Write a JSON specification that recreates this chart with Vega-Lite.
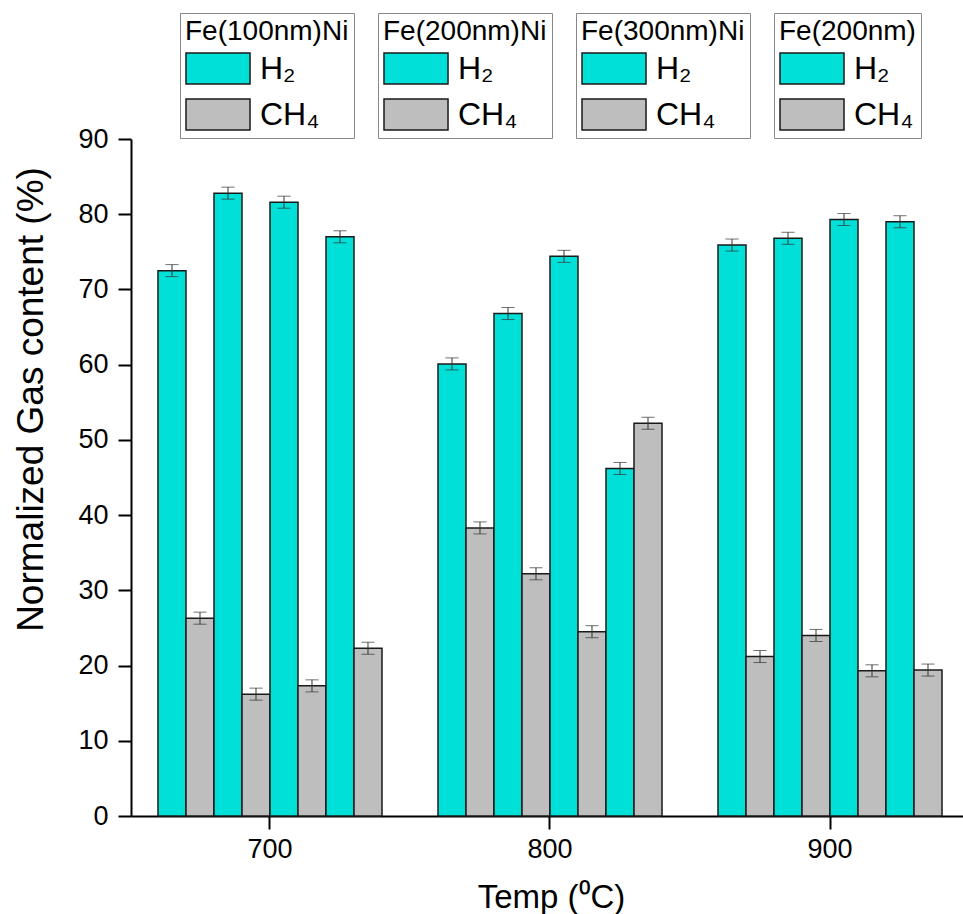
{
  "$schema": "https://vega.github.io/schema/vega-lite/v6.json",
  "width": 832,
  "height": 677,
  "autosize": {"type": "none"},
  "padding": {"left": 131, "top": 139, "right": 0, "bottom": 98},
  "background": "white",
  "config": {
    "view": {"stroke": null},
    "font": "Liberation Sans",
    "axis": {
      "domainColor": "black", "domainWidth": 2, "tickColor": "black", "tickWidth": 2,
      "labelColor": "black", "titleColor": "black", "titleFontWeight": "normal",
      "labelFont": "Liberation Sans", "titleFont": "Liberation Sans", "grid": false
    },
    "legend": {
      "orient": "none", "direction": "vertical",
      "titleFont": "Liberation Sans", "titleFontSize": 28, "titleFontWeight": "normal", "titleColor": "black", "titleLimit": 400,
      "labelFont": "Liberation Sans", "labelFontSize": 32, "labelColor": "black",
      "symbolType": "M-1,-1H3.13V1H-1Z", "symbolSize": 961,
      "symbolStrokeColor": "#1a1a1a", "symbolStrokeWidth": 1.5, "symbolOpacity": 1,
      "labelOffset": 42, "rowPadding": 9, "titlePadding": 6, "padding": 5,
      "strokeColor": "#888888"
    }
  },
  "data": {"values": [
    {"temp": "700", "sample": "Fe(100nm)Ni", "gas": "H₂", "bar": "A-H2", "value": 72.5, "lo": 71.7, "hi": 73.3},
    {"temp": "700", "sample": "Fe(100nm)Ni", "gas": "CH₄", "bar": "A-CH4", "value": 26.3, "lo": 25.5, "hi": 27.1},
    {"temp": "700", "sample": "Fe(200nm)Ni", "gas": "H₂", "bar": "B-H2", "value": 82.8, "lo": 82.0, "hi": 83.6},
    {"temp": "700", "sample": "Fe(200nm)Ni", "gas": "CH₄", "bar": "B-CH4", "value": 16.2, "lo": 15.4, "hi": 17.0},
    {"temp": "700", "sample": "Fe(300nm)Ni", "gas": "H₂", "bar": "C-H2", "value": 81.6, "lo": 80.8, "hi": 82.4},
    {"temp": "700", "sample": "Fe(300nm)Ni", "gas": "CH₄", "bar": "C-CH4", "value": 17.3, "lo": 16.5, "hi": 18.1},
    {"temp": "700", "sample": "Fe(200nm)", "gas": "H₂", "bar": "D-H2", "value": 77.0, "lo": 76.2, "hi": 77.8},
    {"temp": "700", "sample": "Fe(200nm)", "gas": "CH₄", "bar": "D-CH4", "value": 22.3, "lo": 21.5, "hi": 23.1},
    {"temp": "800", "sample": "Fe(100nm)Ni", "gas": "H₂", "bar": "A-H2", "value": 60.1, "lo": 59.3, "hi": 60.9},
    {"temp": "800", "sample": "Fe(100nm)Ni", "gas": "CH₄", "bar": "A-CH4", "value": 38.3, "lo": 37.5, "hi": 39.1},
    {"temp": "800", "sample": "Fe(200nm)Ni", "gas": "H₂", "bar": "B-H2", "value": 66.8, "lo": 66.0, "hi": 67.6},
    {"temp": "800", "sample": "Fe(200nm)Ni", "gas": "CH₄", "bar": "B-CH4", "value": 32.2, "lo": 31.4, "hi": 33.0},
    {"temp": "800", "sample": "Fe(300nm)Ni", "gas": "H₂", "bar": "C-H2", "value": 74.4, "lo": 73.6, "hi": 75.2},
    {"temp": "800", "sample": "Fe(300nm)Ni", "gas": "CH₄", "bar": "C-CH4", "value": 24.5, "lo": 23.7, "hi": 25.3},
    {"temp": "800", "sample": "Fe(200nm)", "gas": "H₂", "bar": "D-H2", "value": 46.2, "lo": 45.4, "hi": 47.0},
    {"temp": "800", "sample": "Fe(200nm)", "gas": "CH₄", "bar": "D-CH4", "value": 52.2, "lo": 51.4, "hi": 53.0},
    {"temp": "900", "sample": "Fe(100nm)Ni", "gas": "H₂", "bar": "A-H2", "value": 75.9, "lo": 75.1, "hi": 76.7},
    {"temp": "900", "sample": "Fe(100nm)Ni", "gas": "CH₄", "bar": "A-CH4", "value": 21.2, "lo": 20.4, "hi": 22.0},
    {"temp": "900", "sample": "Fe(200nm)Ni", "gas": "H₂", "bar": "B-H2", "value": 76.8, "lo": 76.0, "hi": 77.6},
    {"temp": "900", "sample": "Fe(200nm)Ni", "gas": "CH₄", "bar": "B-CH4", "value": 24.0, "lo": 23.2, "hi": 24.8},
    {"temp": "900", "sample": "Fe(300nm)Ni", "gas": "H₂", "bar": "C-H2", "value": 79.3, "lo": 78.5, "hi": 80.1},
    {"temp": "900", "sample": "Fe(300nm)Ni", "gas": "CH₄", "bar": "C-CH4", "value": 19.3, "lo": 18.5, "hi": 20.1},
    {"temp": "900", "sample": "Fe(200nm)", "gas": "H₂", "bar": "D-H2", "value": 79.0, "lo": 78.2, "hi": 79.8},
    {"temp": "900", "sample": "Fe(200nm)", "gas": "CH₄", "bar": "D-CH4", "value": 19.4, "lo": 18.6, "hi": 20.2}
  ]},
  "encoding": {
    "x": {
      "field": "temp", "type": "nominal",
      "scale": {"paddingInner": 0.2, "paddingOuter": 0.0857, "align": 0.5625},
      "axis": {
        "title": "Temp (⁰C)", "titleFontSize": 33, "titleX": 420, "titleY": 91, "titleAlign": "center", "titleBaseline": "alphabetic",
        "labelAngle": 0, "labelFontSize": 27, "tickSize": 13, "labelPadding": 7
      }
    },
    "xOffset": {
      "field": "bar", "type": "nominal",
      "scale": {"domain": ["A-H2", "A-CH4", "B-H2", "B-CH4", "C-H2", "C-CH4", "D-H2", "D-CH4"], "paddingInner": 0, "paddingOuter": 0}
    }
  },
  "layer": [
    {
      "transform": [{"filter": "datum.sample === 'Fe(100nm)Ni'"}],
      "mark": {"type": "bar", "stroke": "#1a1a1a", "strokeWidth": 1.5},
      "encoding": {
        "y": {
          "field": "value", "type": "quantitative",
          "scale": {"domain": [0, 90], "nice": false},
          "axis": {
            "title": "Normalized Gas content (%)", "titleFontSize": 37, "titleX": -100, "titleY": 260, "titleAlign": "center", "titleBaseline": "middle",
            "values": [0, 5, 10, 15, 20, 25, 30, 35, 40, 45, 50, 55, 60, 65, 70, 75, 80, 85, 90],
            "labelExpr": "datum.value % 10 === 0 ? datum.label : ''",
            "tickSize": 13,
            "encode": {"ticks": {"update": {"x2": {"signal": "datum.value % 10 === 0 ? -13 : -7"}}}},
            "labelFontSize": 27, "labelPadding": 10
          }
        },
        "color": {
          "field": "gas", "type": "nominal",
          "scale": {"domain": ["H₂", "CH₄"], "range": ["#00E0D9", "#BEBEBE"]},
          "legend": {"title": "Fe(100nm)Ni", "legendX": 49, "legendY": -126}
        }
      }
    },
    {
      "transform": [{"filter": "datum.sample === 'Fe(200nm)Ni'"}],
      "mark": {"type": "bar", "stroke": "#1a1a1a", "strokeWidth": 1.5},
      "encoding": {
        "y": {"field": "value", "type": "quantitative", "axis": {"title": "Normalized Gas content (%)"}},
        "color": {
          "field": "gas", "type": "nominal",
          "scale": {"domain": ["H₂", "CH₄"], "range": ["#00E0D9", "#BEBEBE"]},
          "legend": {"title": "Fe(200nm)Ni", "legendX": 247, "legendY": -126}
        }
      }
    },
    {
      "transform": [{"filter": "datum.sample === 'Fe(300nm)Ni'"}],
      "mark": {"type": "bar", "stroke": "#1a1a1a", "strokeWidth": 1.5},
      "encoding": {
        "y": {"field": "value", "type": "quantitative", "axis": {"title": "Normalized Gas content (%)"}},
        "color": {
          "field": "gas", "type": "nominal",
          "scale": {"domain": ["H₂", "CH₄"], "range": ["#00E0D9", "#BEBEBE"]},
          "legend": {"title": "Fe(300nm)Ni", "legendX": 445, "legendY": -126}
        }
      }
    },
    {
      "transform": [{"filter": "datum.sample === 'Fe(200nm)'"}],
      "mark": {"type": "bar", "stroke": "#1a1a1a", "strokeWidth": 1.5},
      "encoding": {
        "y": {"field": "value", "type": "quantitative", "axis": {"title": "Normalized Gas content (%)"}},
        "color": {
          "field": "gas", "type": "nominal",
          "scale": {"domain": ["H₂", "CH₄"], "range": ["#00E0D9", "#BEBEBE"]},
          "legend": {"title": "Fe(200nm)", "legendX": 643, "legendY": -126}
        }
      }
    },
    {
      "mark": {"type": "rule", "color": "#333333", "strokeWidth": 1},
      "encoding": {
        "y": {"field": "lo", "type": "quantitative", "axis": {"title": "Normalized Gas content (%)"}},
        "y2": {"field": "hi"}
      }
    },
    {
      "mark": {"type": "tick", "color": "#333333", "size": 13, "thickness": 1},
      "encoding": {
        "y": {"field": "lo", "type": "quantitative", "axis": {"title": "Normalized Gas content (%)"}}
      }
    },
    {
      "mark": {"type": "tick", "color": "#333333", "size": 13, "thickness": 1},
      "encoding": {
        "y": {"field": "hi", "type": "quantitative", "axis": {"title": "Normalized Gas content (%)"}}
      }
    }
  ],
  "resolve": {"scale": {"color": "independent"}}
}
